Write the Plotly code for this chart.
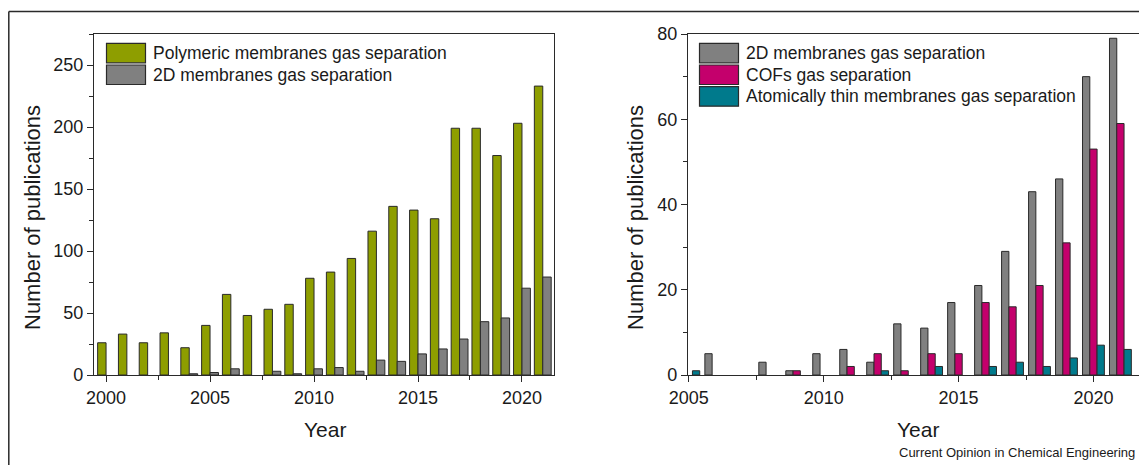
import plotly.graph_objects as go

# ---------------- data ----------------
years_left = list(range(2000, 2022))
polymeric = [26, 33, 26, 34, 22, 40, 65, 48, 53, 57, 78, 83, 94, 116, 136, 133, 126, 199, 199, 177, 203, 233]
twod_left = [0, 0, 0, 0, 1, 2, 5, 0, 3, 1, 5, 6, 3, 12, 11, 17, 21, 29, 43, 46, 70, 79]

years_right = list(range(2005, 2022))
twod_right = [0, 5, 0, 3, 1, 5, 6, 3, 12, 11, 17, 21, 29, 43, 46, 70, 79]
cofs = [0, 0, 0, 0, 1, 0, 2, 5, 1, 5, 5, 17, 16, 21, 31, 53, 59]
atomic = [1, 0, 0, 0, 0, 0, 0, 1, 0, 2, 0, 2, 3, 2, 4, 7, 6]

names_left = ["Polymeric membranes gas separation", "2D membranes gas separation"]
names_right = ["2D membranes gas separation", "COFs gas separation",
               "Atomically thin membranes gas separation"]

# ---------------- style ----------------
W, H = 1147, 465
OFF = 8  # the page body adds an 8px margin around the figure
FONT = "Liberation Sans, Arial, sans-serif"
TXT = "#1a1a1a"
C_GREEN = "#8e9e00"
C_GRAY = "#808080"
C_MAG = "#c4006c"
C_TEAL = "#007a8c"
EDGE = "#2a2a2a"


def px(x):
    return (x - OFF) / W


def py(y):
    return 1 - (y - OFF) / H


def nz(vals):
    # zero-height bars are simply not drawn
    return [v if v else None for v in vals]


fig = go.Figure()

left_cols = [C_GREEN, C_GRAY]
for vals, nm, col in zip([polymeric, twod_left], names_left, left_cols):
    fig.add_trace(go.Bar(x=years_left, y=nz(vals), name=nm, xaxis="x", yaxis="y",
                         marker=dict(color=col, line=dict(color=EDGE, width=1)),
                         showlegend=False))

right_cols = [C_GRAY, C_MAG, C_TEAL]
for vals, nm, col in zip([twod_right, cofs, atomic], names_right, right_cols):
    fig.add_trace(go.Bar(x=years_right, y=nz(vals), name=nm, xaxis="x2", yaxis="y2",
                         marker=dict(color=col, line=dict(color=EDGE, width=1)),
                         showlegend=False))

ydom = [py(375), py(34)]
axis_common = dict(showline=True, linecolor=EDGE, linewidth=1.3, mirror=True,
                   ticks="outside", ticklen=6, tickwidth=1.3, tickcolor=EDGE,
                   showgrid=False, zeroline=False, automargin=False,
                   tickfont=dict(family=FONT, size=18, color=TXT))

fig.update_layout(
    template="none",
    width=W, height=H,
    margin=dict(l=0, r=0, t=0, b=0, pad=0, autoexpand=False),
    paper_bgcolor="white", plot_bgcolor="white",
    showlegend=False,
    barmode="group", bargap=0.19, bargroupgap=0,
    xaxis=dict(domain=[px(94), px(554)], range=[1999.42, 2021.54], anchor="y",
               tickmode="linear", tick0=2000, dtick=5,
               minor=dict(ticklen=4, tickwidth=1.3, tickcolor=EDGE, dtick=2.5, tick0=2000, ticks="outside"),
               **axis_common),
    yaxis=dict(domain=ydom, range=[0, 275], anchor="x",
               tickmode="linear", tick0=0, dtick=50,
               minor=dict(ticklen=4, tickwidth=1.3, tickcolor=EDGE, dtick=25, ticks="outside"),
               **axis_common),
    xaxis2=dict(domain=[px(688), px(1142)], range=[2004.97, 2021.8], anchor="y2",
                tickmode="linear", tick0=2005, dtick=5,
                minor=dict(ticklen=4, tickwidth=1.3, tickcolor=EDGE, dtick=2.5, tick0=2005, ticks="outside"),
                **axis_common),
    yaxis2=dict(domain=ydom, range=[0, 80], anchor="x2",
                tickmode="linear", tick0=0, dtick=20,
                minor=dict(ticklen=4, tickwidth=1.3, tickcolor=EDGE, dtick=10, ticks="outside"),
                **axis_common),
)

shapes = []
annotations = []

# outer frame (top and left)
shapes.append(dict(type="line", xref="paper", yref="paper", x0=px(8.8), x1=1.0, y0=py(11.5), y1=py(11.5),
                   line=dict(color=EDGE, width=1.5)))
shapes.append(dict(type="line", xref="paper", yref="paper", x0=px(8.8), x1=px(8.8), y0=0, y1=py(11.5),
                   line=dict(color=EDGE, width=1.5)))


def legend_block(x0, y_top, names, cols):
    for i, (nm, col) in enumerate(zip(names, cols)):
        yt = y_top + i * 21.7
        yb = yt + 19.5
        shapes.append(dict(type="rect", xref="paper", yref="paper",
                           x0=px(x0), x1=px(x0 + 39), y0=py(yb), y1=py(yt),
                           fillcolor=col, line=dict(color=EDGE, width=1.2)))
        annotations.append(dict(xref="paper", yref="paper", x=px(x0 + 44), y=py((yt + yb) / 2),
                                text=nm, showarrow=False, xanchor="left", yanchor="middle",
                                font=dict(family=FONT, size=17.5, color=TXT)))


legend_block(106.5, 43.3, names_left, left_cols)
legend_block(699.5, 43.3, names_right, right_cols)

# axis titles
for xc in (325, 918):
    annotations.append(dict(xref="paper", yref="paper", x=px(xc), y=py(429), text="Year",
                            showarrow=False, xanchor="center", yanchor="middle",
                            font=dict(family=FONT, size=21, color=TXT)))
for xc in (32, 635):
    annotations.append(dict(xref="paper", yref="paper", x=px(xc), y=py(218),
                            text="Number of publications", textangle=-90,
                            showarrow=False, xanchor="center", yanchor="middle",
                            font=dict(family=FONT, size=22, color=TXT)))

annotations.append(dict(xref="paper", yref="paper", x=px(1137), y=py(452),
                        text="Current Opinion in Chemical Engineering",
                        showarrow=False, xanchor="right", yanchor="middle",
                        font=dict(family=FONT, size=13, color=TXT)))

fig.update_layout(shapes=shapes, annotations=annotations)

fig.write_html("out.html")
